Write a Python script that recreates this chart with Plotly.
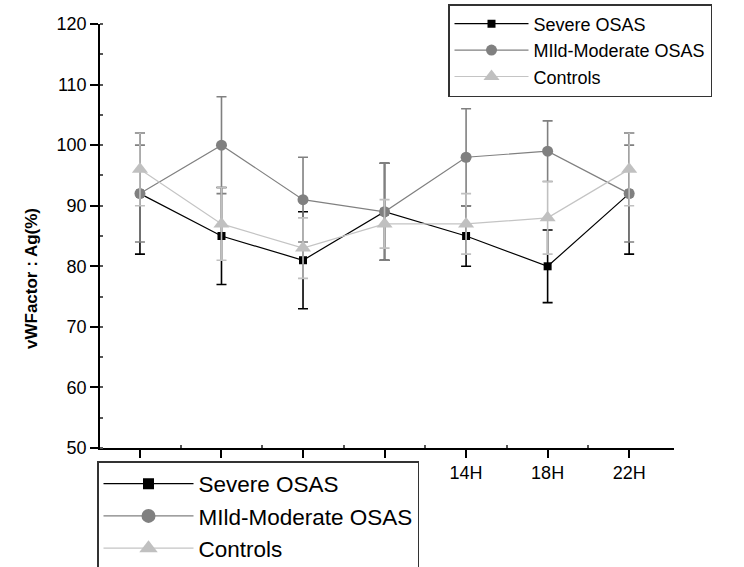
import plotly.graph_objects as go

hours = ["22H", "2H", "6H", "10H", "14H", "18H", "22H"]
severe = [92, 85, 81, 89, 85, 80, 92]
severe_err = [10, 8, 8, 8, 5, 6, 10]
mild = [92, 100, 91, 89, 98, 99, 92]
mild_err = [8, 8, 7, 8, 8, 5, 8]
controls = [96, 87, 83, 87, 87, 88, 96]
controls_err = [6, 6, 5, 4, 5, 6, 6]
y_title = "vWFactor : Ag(%)"

names = ["Severe OSAS", "MIld-Moderate OSAS", "Controls"]
values = [severe, mild, controls]
errors = [severe_err, mild_err, controls_err]
line_colors = ["#000000", "#808080", "#c4c4c4"]
marker_colors = ["#000000", "#808080", "#c0c0c0"]
symbols = ["square", "circle", "triangle-up"]
msizes = [8, 11, 14]

FONT = "Liberation Sans, Arial, sans-serif"
xs = list(range(len(hours)))

fig = go.Figure()
for n, v, e, lc, mc, s, ms in zip(names, values, errors, line_colors, marker_colors, symbols, msizes):
    fig.add_trace(go.Scatter(
        x=xs, y=v, name=n, mode="lines+markers",
        line=dict(color=lc, width=1.2),
        marker=dict(symbol=s, size=ms, color=mc),
        error_y=dict(type="data", array=e, visible=True, color=mc, thickness=1.6, width=5),
        legend="legend",
    ))
# second (lower) legend, same styling
for n, lc, mc, s, ms in zip(names, line_colors, marker_colors, symbols, msizes):
    fig.add_trace(go.Scatter(
        x=[None], y=[None], name=n, mode="lines+markers",
        line=dict(color=lc, width=1.2),
        marker=dict(symbol=s, size=ms + 3, color=mc),
        legend="legend2", hoverinfo="skip",
    ))

fig.add_annotation(
    text="<b>" + y_title + "</b>", textangle=-90,
    xref="paper", yref="paper", x=(31 - 100) / 574, y=(448 - 279) / 424,
    xanchor="center", yanchor="middle", showarrow=False,
    font=dict(size=17, family=FONT, color="black"),
)

fig.update_layout(
    width=744, height=567,
    margin=dict(l=100, r=70, t=24, b=119, autoexpand=False),
    paper_bgcolor="white", plot_bgcolor="white",
    font=dict(family=FONT, color="black", size=18),
    xaxis=dict(
        range=[-0.49, 6.55], tickmode="array", tickvals=xs, ticktext=hours,
        showline=True, linecolor="black", linewidth=1.5, mirror=False,
        ticks="outside", ticklen=8, tickwidth=1.5, tickcolor="black",
        showgrid=False, zeroline=False, automargin=False,
        tickfont=dict(size=18, family=FONT),
        minor=dict(tickvals=[x + 0.5 for x in xs[:-1]], ticks="inside", ticklen=3, tickcolor="#555", showgrid=False),
    ),
    yaxis=dict(
        range=[50, 120], tickmode="linear", tick0=50, dtick=10,
        showline=True, linecolor="black", linewidth=1.5, mirror=False,
        ticks="outside", ticklen=8, tickwidth=1.5, tickcolor="black",
        showgrid=False, zeroline=False, automargin=False,
        tickfont=dict(size=18, family=FONT),
        minor=dict(dtick=5, ticks="inside", ticklen=3, tickcolor="#555", showgrid=False),
    ),
    legend=dict(
        x=(448 - 100) / 574, y=(448 - 4) / 424, xanchor="left", yanchor="top",
        bgcolor="white", bordercolor="#333", borderwidth=1.5,
        font=dict(size=18, family=FONT), itemwidth=74, tracegroupgap=0,
    ),
    legend2=dict(
        x=(97 - 100) / 574, y=(448 - 461) / 424, xanchor="left", yanchor="top",
        bgcolor="white", bordercolor="#333", borderwidth=1.5,
        font=dict(size=22.5, family=FONT), itemwidth=90, tracegroupgap=0,
    ),
    showlegend=True,
)

fig.write_html("out.html")
